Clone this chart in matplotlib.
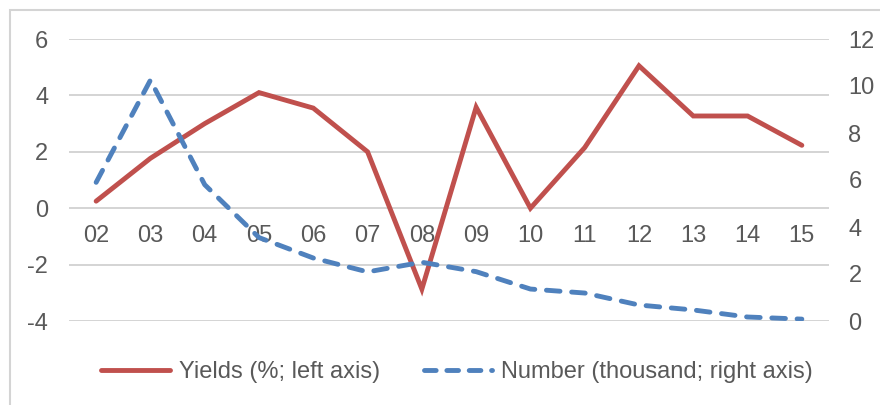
import numpy as np
import matplotlib.pyplot as plt
from matplotlib.patches import Rectangle
from matplotlib.lines import Line2D

plt.rcParams['font.family'] = ['Liberation Sans', 'DejaVu Sans']
plt.rcParams['axes.unicode_minus'] = False

years = ['02', '03', '04', '05', '06', '07', '08', '09', '10', '11', '12', '13', '14', '15']
yields = [0.25, 1.77, 3.0, 4.1, 3.55, 2.0, -2.87, 3.58, 0.0, 2.15, 5.05, 3.27, 3.27, 2.23]
number = [5.9, 10.25, 5.8, 3.55, 2.68, 2.09, 2.5, 2.1, 1.36, 1.19, 0.68, 0.47, 0.17, 0.08]

red = '#c0504d'
blue = '#4f81bd'
txt = '#595959'
grid = '#d4d4d4'

fig = plt.figure(figsize=(8.8, 4.05), dpi=100)
ax = fig.add_axes([69 / 880, 1 - 321 / 405, 760 / 880, 282 / 405])
ax2 = ax.twinx()

x = np.arange(len(years))
ax.plot(x, yields, color=red, lw=3.5, solid_capstyle='round', solid_joinstyle='miter', zorder=3)
ax2.plot(x, number, color=blue, lw=3.5, dashes=(2.8, 2.4), dash_capstyle='round', zorder=3)

ax.set_xlim(-0.5, len(years) - 0.5)
ax.set_ylim(-4, 6)
ax2.set_ylim(0, 12)
ax.set_yticks(np.arange(-4, 7, 2))
ax2.set_yticks(np.arange(0, 13, 2))
ax.set_xticks(x)
ax.set_xticklabels(years)

ax.yaxis.grid(True, color=grid, lw=1.4)
ax.set_axisbelow(True)

for a in (ax, ax2):
    for s in a.spines.values():
        s.set_visible(False)
ax.spines['bottom'].set_position(('data', 0))

ax.tick_params(axis='x', length=0, pad=12, labelsize=17, labelcolor=txt)
ax.tick_params(axis='y', length=0, pad=15, labelsize=17, labelcolor=txt)
ax2.tick_params(axis='y', length=0, pad=14, labelsize=17, labelcolor=txt)

handles = [
    Line2D([], [], color=red, lw=3.5, solid_capstyle='round'),
    Line2D([], [], color=blue, lw=3.5, dashes=(2.4, 2.2), dash_capstyle='round'),
]
labels = ['Yields (%; left axis)', 'Number (thousand; right axis)']
fig.legend(handles, labels, loc='center', bbox_to_anchor=(457 / 880, 1 - 372 / 405),
           ncol=2, frameon=False, fontsize=17, labelcolor=txt,
           handlelength=2.9, handletextpad=0.38, columnspacing=1.85)

fig.patches.append(Rectangle((10 / 880, -0.05), 1.0, 1 - 10 / 405 + 0.05,
                             transform=fig.transFigure, fill=False,
                             edgecolor=grid, lw=1.5, clip_on=False))

fig.savefig('out.png', dpi=100)
